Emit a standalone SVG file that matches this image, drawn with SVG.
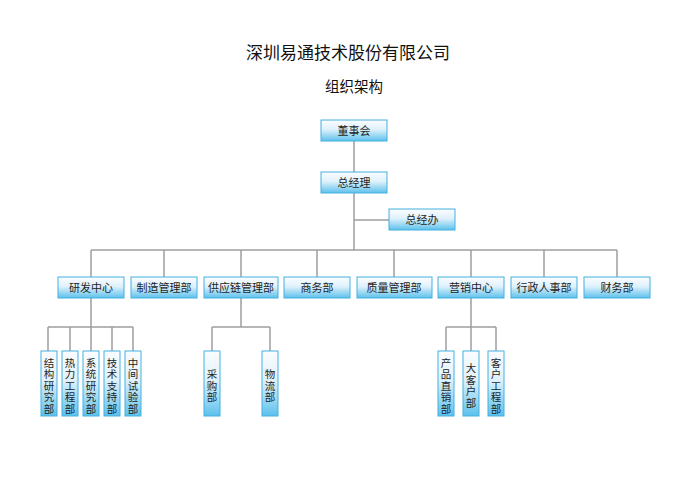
<svg xmlns="http://www.w3.org/2000/svg" width="700" height="495" viewBox="0 0 700 495">
<defs>
<linearGradient id="g" x1="0" y1="0" x2="0" y2="1">
<stop offset="0" stop-color="#fbfdff"/>
<stop offset="0.45" stop-color="#dff1fb"/>
<stop offset="1" stop-color="#5cc1ec"/>
</linearGradient>
<style>
.b{fill:url(#g);stroke:#45b0df;stroke-width:1}
.t{font-family:"Liberation Sans","Noto Sans CJK SC",sans-serif;font-size:11px;fill:#1e1e1e;text-anchor:middle}
.v{font-family:"Liberation Sans","Noto Sans CJK SC",sans-serif;font-size:10.5px;fill:#1e1e1e;text-anchor:middle}
.l{stroke:#9e9e9e;stroke-width:1.5;fill:none}
</style>
</defs>
<rect width="700" height="495" fill="#fff"/>
<text x="348" y="59" style="font-family:'Noto Sans CJK SC',sans-serif;font-size:17px;fill:#111;text-anchor:middle">深圳易通技术股份有限公司</text>
<text x="354" y="92" style="font-family:'Noto Sans CJK SC',sans-serif;font-size:14.5px;fill:#111;text-anchor:middle">组织架构</text>
<g id="connectors">
<path class="l" d="M354 141V172M354 193V250M354 220H389M91 250H617M91 250V277M164 250V277M241 250V277M317 250V277M394 250V277M471 250V277M544 250V277M617 250V277"/>
<path class="l" d="M91 298V327M48 327H133M48 327V351M70 327V351M91 327V351M112 327V351M133 327V351"/>
<path class="l" d="M241 298V327M212 327H270M212 327V351M270 327V351"/>
<path class="l" d="M471 298V327M446 327H496M446 327V351M471 327V351M496 327V351"/>
</g>
<g id="n-dsh"><rect class="b" x="321" y="120" width="66" height="21"/><text class="t" x="354" y="134.5">董事会</text></g>
<g id="n-zjl"><rect class="b" x="321" y="172" width="66" height="21"/><text class="t" x="354" y="186.5">总经理</text></g>
<g id="n-zjb"><rect class="b" x="389" y="209" width="66" height="21"/><text class="t" x="422" y="223.5">总经办</text></g>
<g id="n-yfzx"><rect class="b" x="58" y="277" width="66" height="21"/><text class="t" x="91" y="291.5">研发中心</text></g>
<g id="n-zzgl"><rect class="b" x="131" y="277" width="66" height="21"/><text class="t" x="164" y="291.5">制造管理部</text></g>
<g id="n-gyl"><rect class="b" x="204" y="277" width="74" height="21"/><text class="t" x="241" y="291.5">供应链管理部</text></g>
<g id="n-sw"><rect class="b" x="284" y="277" width="66" height="21"/><text class="t" x="317" y="291.5">商务部</text></g>
<g id="n-zl"><rect class="b" x="357" y="277" width="75" height="21"/><text class="t" x="394" y="291.5">质量管理部</text></g>
<g id="n-yx"><rect class="b" x="438" y="277" width="66" height="21"/><text class="t" x="471" y="291.5">营销中心</text></g>
<g id="n-xz"><rect class="b" x="511" y="277" width="66" height="21"/><text class="t" x="544" y="291.5">行政人事部</text></g>
<g id="n-cw"><rect class="b" x="584" y="277" width="66" height="21"/><text class="t" x="617" y="291.5">财务部</text></g>
<g id="n-jg"><rect class="b" x="41" y="351" width="16" height="65"/><text class="v"><tspan x="49" y="366.5">结</tspan><tspan x="49" y="378">构</tspan><tspan x="49" y="389.5">研</tspan><tspan x="49" y="401">究</tspan><tspan x="49" y="412.5">部</tspan></text></g>
<g id="n-rl"><rect class="b" x="62" y="351" width="16" height="65"/><text class="v"><tspan x="70" y="366.5">热</tspan><tspan x="70" y="378">力</tspan><tspan x="70" y="389.5">工</tspan><tspan x="70" y="401">程</tspan><tspan x="70" y="412.5">部</tspan></text></g>
<g id="n-xt"><rect class="b" x="83" y="351" width="16" height="65"/><text class="v"><tspan x="91" y="366.5">系</tspan><tspan x="91" y="378">统</tspan><tspan x="91" y="389.5">研</tspan><tspan x="91" y="401">究</tspan><tspan x="91" y="412.5">部</tspan></text></g>
<g id="n-js"><rect class="b" x="104" y="351" width="16" height="65"/><text class="v"><tspan x="112" y="366.5">技</tspan><tspan x="112" y="378">术</tspan><tspan x="112" y="389.5">支</tspan><tspan x="112" y="401">持</tspan><tspan x="112" y="412.5">部</tspan></text></g>
<g id="n-zj"><rect class="b" x="125" y="351" width="16" height="65"/><text class="v"><tspan x="133" y="366.5">中</tspan><tspan x="133" y="378">间</tspan><tspan x="133" y="389.5">试</tspan><tspan x="133" y="401">验</tspan><tspan x="133" y="412.5">部</tspan></text></g>
<g id="n-cg"><rect class="b" x="204" y="351" width="16" height="65"/><text class="v"><tspan x="212" y="378">采</tspan><tspan x="212" y="389.5">购</tspan><tspan x="212" y="401">部</tspan></text></g>
<g id="n-wl"><rect class="b" x="262" y="351" width="16" height="65"/><text class="v"><tspan x="270" y="378">物</tspan><tspan x="270" y="389.5">流</tspan><tspan x="270" y="401">部</tspan></text></g>
<g id="n-cp"><rect class="b" x="438" y="351" width="16" height="65"/><text class="v"><tspan x="446" y="366.5">产</tspan><tspan x="446" y="378">品</tspan><tspan x="446" y="389.5">直</tspan><tspan x="446" y="401">销</tspan><tspan x="446" y="412.5">部</tspan></text></g>
<g id="n-dkh"><rect class="b" x="463" y="351" width="16" height="65"/><text class="v"><tspan x="471" y="372">大</tspan><tspan x="471" y="383.5">客</tspan><tspan x="471" y="395">户</tspan><tspan x="471" y="406.5">部</tspan></text></g>
<g id="n-khgc"><rect class="b" x="488" y="351" width="16" height="65"/><text class="v"><tspan x="496" y="366.5">客</tspan><tspan x="496" y="378">户</tspan><tspan x="496" y="389.5">工</tspan><tspan x="496" y="401">程</tspan><tspan x="496" y="412.5">部</tspan></text></g>
</svg>
